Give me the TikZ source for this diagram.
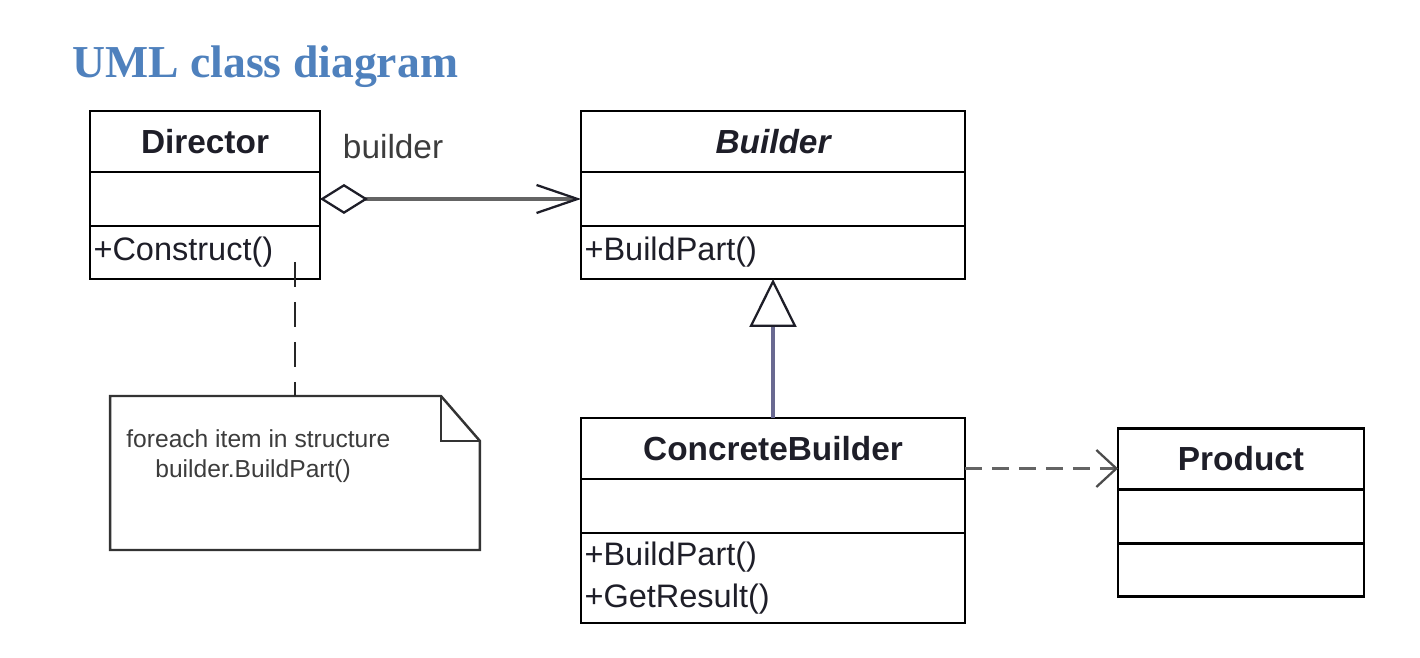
\documentclass[tikz,border=0pt]{standalone}
\usepackage{fontspec}
\setmainfont{Liberation Sans}
\newfontfamily\titlefont{Liberation Serif}
\usepackage{xcolor}
\definecolor{titleblue}{RGB}{79, 129, 189}
\definecolor{linkgray}{RGB}{100, 100, 100}
\definecolor{inhblue}{RGB}{105, 105, 145}
\definecolor{textdark}{RGB}{30, 30, 40}
\definecolor{notegray}{RGB}{60, 60, 60}
\usetikzlibrary{positioning, arrows.meta, calc}

\begin{document}
\begin{tikzpicture}[x=0.02cm, y=-0.02cm,
        classhead/.style={rectangle, draw, line width=1.4pt, outer sep=0pt, inner sep=0pt, minimum height=1.22cm, font=\fontsize{19}{23}\selectfont\bfseries, text=textdark},
        classattr/.style={rectangle, draw, line width=1.4pt, outer sep=0pt, inner sep=0pt, minimum height=1.08cm},
        classops/.style={rectangle, draw, line width=1.4pt, outer sep=0pt, inner xsep=2pt, inner ysep=0pt, minimum height=1.06cm, align=left, font=\fontsize{18.5}{24}\selectfont, text=textdark},
        notebox/.style={rectangle, inner sep=0pt, outer sep=0pt, minimum width=7.4cm, minimum height=3.08cm},
        notetext/.style={inner sep=0pt, align=left, font=\fontsize{14}{17}\selectfont, text=notegray},
        noteline/.style={draw=black!80, line width=1.4pt},
        aggline/.style={draw=linkgray, line width=2.2pt, {Diamond[open, length=0.96cm, width=0.6cm, line width=1.3pt, color=textdark]}-{Straight Barb[length=0.82cm, width=0.56cm, line width=1.3pt, color=textdark]}},
        inhline/.style={draw=inhblue, line width=2pt, -{Triangle[open, length=0.96cm, width=0.94cm, line width=1.3pt, color=textdark]}},
        depline/.style={draw=linkgray, line width=1.8pt, dash pattern=on 0.34cm off 0.2cm, -{Straight Barb[length=0.4cm, width=0.74cm, line width=1.3pt, color=black!70]}},
        notelink/.style={draw=black!85, line width=1.5pt, dash pattern=on 0.5cm off 0.3cm}]

        \useasboundingbox (0,0) rectangle (1420,658);

        \node [anchor=base west, inner sep=0pt, font=\titlefont\bfseries\fontsize{26}{30}\selectfont, text=titleblue] (title) at (72,78) {UML class diagram};

        % Director
        \node [classhead, minimum width=4.6cm] (directorhead) at (205,141.5) {Director};
        \node [classattr, minimum width=4.6cm, below=0pt of directorhead] (directorattr) {};
        \node [classops, text width=4.46cm, below=0pt of directorattr] (directorops) {+Construct()};

        % Builder
        \node [classhead, minimum width=7.68cm] (builderhead) at (773,141.5) {\itshape Builder};
        \node [classattr, minimum width=7.68cm, below=0pt of builderhead] (builderattr) {};
        \node [classops, text width=7.54cm, below=0pt of builderattr] (builderops) {+BuildPart()};

        % ConcreteBuilder
        \node [classhead, minimum width=7.68cm] (cbhead) at (773,448.5) {ConcreteBuilder};
        \node [classattr, minimum width=7.68cm, below=0pt of cbhead] (cbattr) {};
        \node [classops, text width=7.54cm, minimum height=1.8cm, below=0pt of cbattr] (cbops) {+BuildPart()\\+GetResult()};

        % Product
        \node [classhead, minimum width=4.92cm] (producthead) at (1241,459) {Product};
        \node [classattr, minimum width=4.92cm, below=0pt of producthead] (productattr) {};
        \node [classattr, minimum width=4.92cm, minimum height=1.06cm, below=0pt of productattr] (productops) {};

        % Note
        \node [notebox] (note) at (295,473) {};
        \draw [noteline] (note.north west) -- ($(note.north east)+(-39,0)$) -- ($(note.north east)+(0,45)$) -- (note.south east) -- (note.south west) -- cycle;
        \draw [noteline] ($(note.north east)+(-39,0)$) -- ($(note.north east)+(-39,45)$) -- ($(note.north east)+(0,45)$);
        \node [notetext, anchor=north west] (notetxt) at ($(note.north west)+(16,33)$) {foreach item in structure\\\hspace{0.58cm}builder.BuildPart()};
        \coordinate (linkstart) at ($(note.north |- directorops.south)+(0,-17)$);

        % Connectors
        \path [aggline] (directorattr.east) -- (builderattr.west) node [pos=0.28, yshift=1.04cm, font=\fontsize{19}{23}\selectfont, text=notegray] (rolelabel) {builder};
        \path [inhline] (cbhead.north) -- (builderops.south);
        \path [depline] ([yshift=-0.4cm]cbhead.east) -- ([yshift=-0.4cm]cbhead.east -| producthead.west);
        \path [notelink] (linkstart) -- (note.north);
\end{tikzpicture}
\end{document}
